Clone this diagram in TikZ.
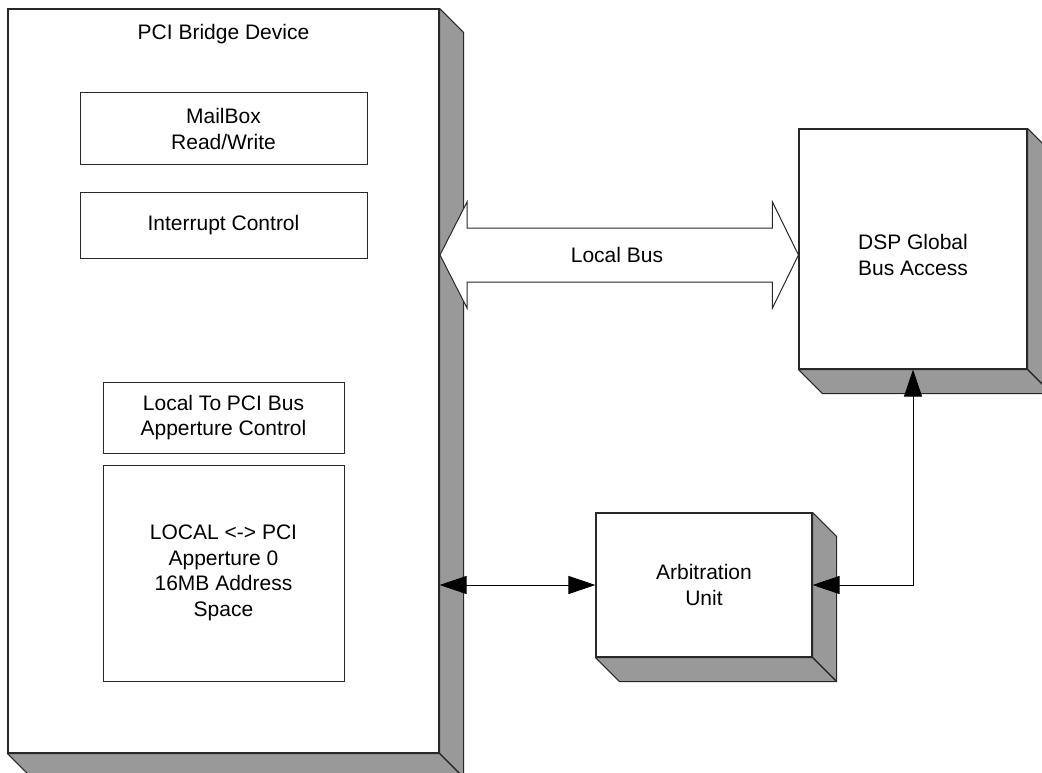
\documentclass[tikz,border=0pt]{standalone}
\usepackage{fontspec}
\setmainfont{Liberation Sans}
\usetikzlibrary{arrows.meta,calc}
\definecolor{depthgrey}{RGB}{153,153,153}
\definecolor{edge}{RGB}{40,40,40}
\tikzset{
  frontbox/.style={draw=edge, line width=1.1pt, fill=white, inner sep=0pt, align=center,
    font=\fontsize{21}{25.5}\selectfont},
  depthface/.style={draw=edge, line width=1.1pt, fill=depthgrey, line join=round},
  innerbox/.style={draw=edge, line width=1pt, fill=white, inner sep=0pt, align=center,
    font=\fontsize{21}{25.5}\selectfont},
  lbl/.style={inner sep=0pt, align=center, font=\fontsize{21}{25.5}\selectfont},
  conn/.style={draw=black, line width=1pt, {Triangle[length=27pt,width=18pt]}-{Triangle[length=27pt,width=18pt]}},
  busarrow/.style={draw=edge, line width=1pt, fill=white, line join=miter},
}
\newcommand{\depthof}[1]{%
  \path[depthface] (#1.north east) -- ++(24,24) -- ($(#1.south east)+(24,24)$) -- (#1.south east) -- cycle;
  \path[depthface] (#1.south west) -- (#1.south east) -- ++(24,24) -- ($(#1.south west)+(24,24)$) -- cycle;
}
\begin{document}
\begin{tikzpicture}[x=1pt,y=-1pt]
\useasboundingbox (0,0) rectangle (1042,773);
\clip (0,0) rectangle (1042,773);
\fill[white] (0,0) rectangle (1042,773);

% PCI bridge device
\node[frontbox, minimum width=431pt, minimum height=744pt] (pci) at (223.5,381) {};
\depthof{pci}
\node[frontbox, minimum width=431pt, minimum height=744pt] at (pci.center) {};
\node[lbl] (pcit) at (223.5,34) {PCI Bridge Device};

\node[innerbox, minimum width=287pt, minimum height=72pt] (mail) at (223.5,129) {MailBox\\Read/Write};
\node[innerbox, minimum width=287pt, minimum height=65pt] (intr) at (223.5,225.5) {Interrupt Control};
\node[innerbox, minimum width=241pt, minimum height=71pt] (ltp) at (223.5,417.5) {Local To PCI Bus\\Apperture Control};
\node[innerbox, minimum width=241pt, minimum height=216pt] (ap0) at (223.5,573) {LOCAL <-> PCI\\Apperture 0\\16MB Address\\Space};

% DSP global bus access
\node[frontbox, minimum width=228pt, minimum height=240pt] (dsp) at (913,249) {};
\depthof{dsp}
\node[frontbox, minimum width=228pt, minimum height=240pt] at (dsp.center) {};
\node[lbl] (dspt) at (913,255) {DSP Global\\Bus Access};

% Arbitration unit
\node[frontbox, minimum width=216pt, minimum height=144pt] (arb) at (704,585) {};
\depthof{arb}
\node[frontbox, minimum width=216pt, minimum height=144pt] at (arb.center) {Arbitration\\Unit};

% Local bus block arrow
\coordinate (bl) at (440,255);
\coordinate (br) at (dsp.west |- bl);
\path[busarrow] (bl) -- ++(27,-53) -- ++(0,26) -- ($(br)+(-26,-27)$) -- ++(0,-26) -- (br)
  -- ++(-26,53) -- ++(0,-26) -- ($(bl)+(27,27)$) -- ++(0,26) -- cycle;
\node[lbl] (lbt) at (617,255) {Local Bus};

% connectors
\draw[conn] (pci.east |- arb.west) -- (arb.west);
\draw[conn] (dsp.south) |- (arb.east);
\end{tikzpicture}
\end{document}
